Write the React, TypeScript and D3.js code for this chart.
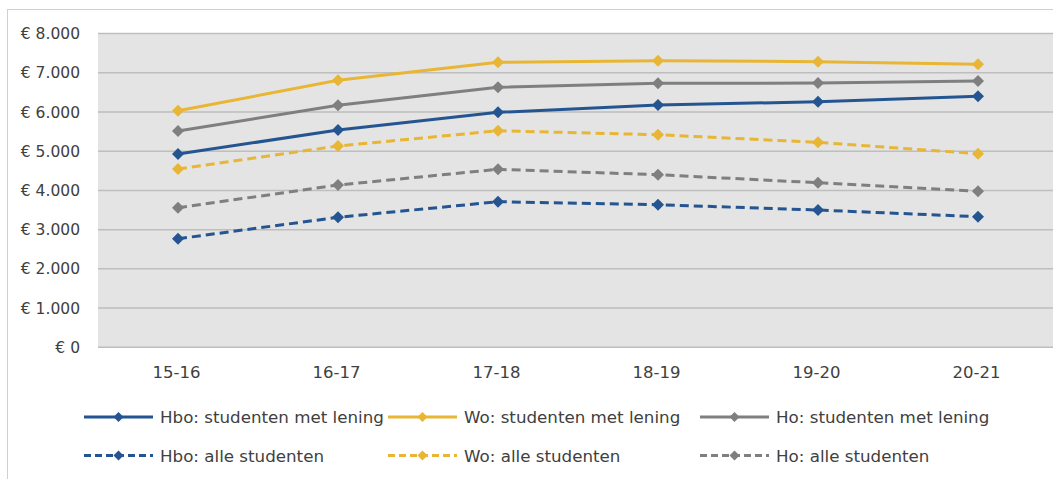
import React from "react";
import * as d3 from "d3";

const categories = ["15-16", "16-17", "17-18", "18-19", "19-20", "20-21"];
const hboMetLening = [4927, 5539, 5990, 6176, 6261, 6398];
const woMetLening = [6031, 6806, 7265, 7306, 7281, 7214];
const hoMetLening = [5514, 6169, 6628, 6730, 6737, 6788];
const hboAlle = [2768, 3314, 3712, 3635, 3500, 3329];
const woAlle = [4545, 5131, 5521, 5419, 5226, 4935];
const hoAlle = [3559, 4137, 4537, 4400, 4196, 3977];
const yTicks = [0, 1000, 2000, 3000, 4000, 5000, 6000, 7000, 8000];

const BLUE = "#245591";
const GOLD = "#E8B634";
const GRAY = "#7F7F7F";

const series = [
  { name: "Hbo: studenten met lening", values: hboMetLening, color: BLUE, dashed: false },
  { name: "Wo: studenten met lening", values: woMetLening, color: GOLD, dashed: false },
  { name: "Ho: studenten met lening", values: hoMetLening, color: GRAY, dashed: false },
  { name: "Hbo: alle studenten", values: hboAlle, color: BLUE, dashed: true },
  { name: "Wo: alle studenten", values: woAlle, color: GOLD, dashed: true },
  { name: "Ho: alle studenten", values: hoAlle, color: GRAY, dashed: true },
];

const FONT = "'DejaVu Sans', sans-serif";

export default function App() {
  const W = 1053, H = 479;
  const plot = { left: 98, right: 1058, top: 33.5, bottom: 347.3 };
  const x = d3.scaleBand<string>().domain(categories).range([plot.left, plot.right]);
  const y = d3.scaleLinear().domain([0, 8000]).range([plot.bottom, plot.top]);
  const line = d3
    .line<number>()
    .x((_, i) => (x(categories[i]) as number) + x.bandwidth() / 2)
    .y((d) => y(d));
  const fmt = (v: number) => "€ " + (v === 0 ? "0" : d3.format(",")(v).replace(/,/g, "."));
  const diamond = (cx: number, cy: number, r = 6) =>
    `M${cx},${cy - r}L${cx + r},${cy}L${cx},${cy + r}L${cx - r},${cy}Z`;

  const legendCols = [84, 388, 700];
  const legendRows = [417, 455.5];
  const lineLen = 69;

  return (
    <svg width={W} height={H} style={{ position: "absolute", left: 0, top: 0 }}>
      <rect x={0} y={0} width={W} height={H} fill="#fff" />
      <rect x={7.5} y={9.5} width={W + 10} height={H + 10} fill="#fff" stroke="#D0D0D0" strokeWidth={1} />
      <rect x={plot.left} y={plot.top} width={plot.right - plot.left} height={plot.bottom - plot.top} fill="#E4E4E4" />
      {yTicks.map((t) => (
        <g key={t}>
          <line x1={plot.left} x2={plot.right} y1={y(t)} y2={y(t)} stroke="#BEBEBE" strokeWidth={1.5} />
          <text x={80} y={y(t)} dy="0.36em" textAnchor="end" fontFamily={FONT} fontSize={15.5} fill="#404040">
            {fmt(t)}
          </text>
        </g>
      ))}
      {categories.map((c) => (
        <text key={c} x={(x(c) as number) + x.bandwidth() / 2 - 1.5} y={372} dy="0.36em" textAnchor="middle" fontFamily={FONT} fontSize={16.5} fill="#404040">
          {c}
        </text>
      ))}
      {series.map((s) => (
        <g key={s.name}>
          <path d={line(s.values) || ""} fill="none" stroke={s.color} strokeWidth={3} strokeDasharray={s.dashed ? "9,5" : undefined} />
          {s.values.map((v, i) => (
            <path key={i} d={diamond((x(categories[i]) as number) + x.bandwidth() / 2, y(v))} fill={s.color} />
          ))}
        </g>
      ))}
      {series.map((s, i) => {
        const lx = legendCols[i % 3];
        const ly = legendRows[Math.floor(i / 3)];
        return (
          <g key={"lg" + s.name}>
            <line x1={lx} x2={lx + lineLen} y1={ly} y2={ly} stroke={s.color} strokeWidth={3} strokeDasharray={s.dashed ? "7,4" : undefined} />
            <path d={diamond(lx + lineLen / 2, ly, 5)} fill={s.color} />
            <text x={lx + lineLen + 7} y={ly} dy="0.36em" fontFamily={FONT} fontSize={16.7} fill="#404040">
              {s.name}
            </text>
          </g>
        );
      })}
    </svg>
  );
}
